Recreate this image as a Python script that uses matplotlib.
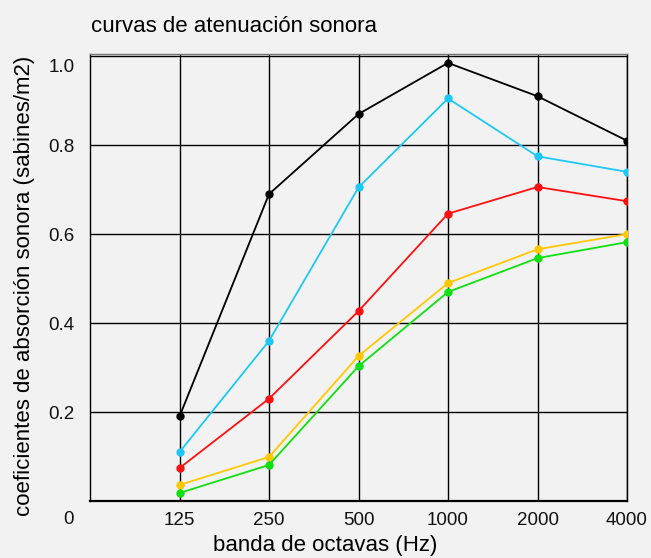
import numpy as np
from matplotlib import pyplot as plt
from matplotlib import transforms

plt.rcParams['font.family'] = ['Liberation Sans', 'DejaVu Sans']

# octave bands and absorption coefficients per curve
bands = ["125", "250", "500", "1000", "2000", "4000"]
black = [0.19, 0.69, 0.87, 0.985, 0.91, 0.81]
blue = [0.11, 0.36, 0.705, 0.905, 0.775, 0.74]
red = [0.074, 0.23, 0.427, 0.646, 0.706, 0.674]
yellow = [0.036, 0.099, 0.326, 0.49, 0.566, 0.60]
green = [0.018, 0.081, 0.303, 0.47, 0.546, 0.582]
yticks = [0.2, 0.4, 0.6, 0.8, 1.0]
ylabels = ["0.2", "0.4", "0.6", "0.8", "1.0"]

bg = "#f2f2f2"
fig = plt.figure(figsize=(6.51, 5.58), dpi=100, facecolor=bg)
ax = fig.add_axes([90 / 651, 57 / 558, 537 / 651, 447 / 558], facecolor=bg)

x = np.arange(1, len(bands) + 1)
series = [(black, "#000000"), (blue, "#1ec8f5"), (red, "#ff1010"),
          (yellow, "#ffc800"), (green, "#10e010")]
for vals, col in series:
    ax.plot(x, vals, color=col, lw=1.3, marker="o", ms=5, zorder=3)

ax.set_xlim(0, 6)
ax.set_ylim(0, 1.005)
ax.set_xticks(x)
ax.set_xticklabels(bands)
ax.set_yticks(yticks)
ax.set_yticklabels(ylabels)
ax.grid(True, color="black", lw=1)
ax.set_axisbelow(True)
ax.tick_params(length=0, labelsize=13.5, colors="#111111")
ax.tick_params(axis="x", pad=8)
ax.tick_params(axis="y", pad=11)
# the top label sits a little below its line in the original
top = ax.get_yticklabels()[-1]
top.set_transform(top.get_transform() + transforms.ScaledTranslation(0, -9 / 100, fig.dpi_scale_trans))
for s in ax.spines.values():
    s.set_color("black")
    s.set_linewidth(1)
ax.spines["top"].set_color("#777777")
ax.spines["bottom"].set_linewidth(1.6)

fig.text(325 / 651, 1 - 546 / 558, "banda de octavas (Hz)", fontsize=16,
         ha="center", va="center")
fig.text(25 / 651, 1 - 286 / 558, "coeficientes de absorción sonora (sabines/m2)",
         fontsize=16, rotation=90, ha="center", va="center")
fig.text(68 / 651, 1 - 519 / 558, "0", fontsize=13.5, ha="center", va="center",
         color="#111111")
fig.text(91 / 651, 1 - 32 / 558, "curvas de atenuación sonora", fontsize=16,
         ha="left", va="baseline")

fig.savefig("out.png", dpi=100, facecolor=bg)
